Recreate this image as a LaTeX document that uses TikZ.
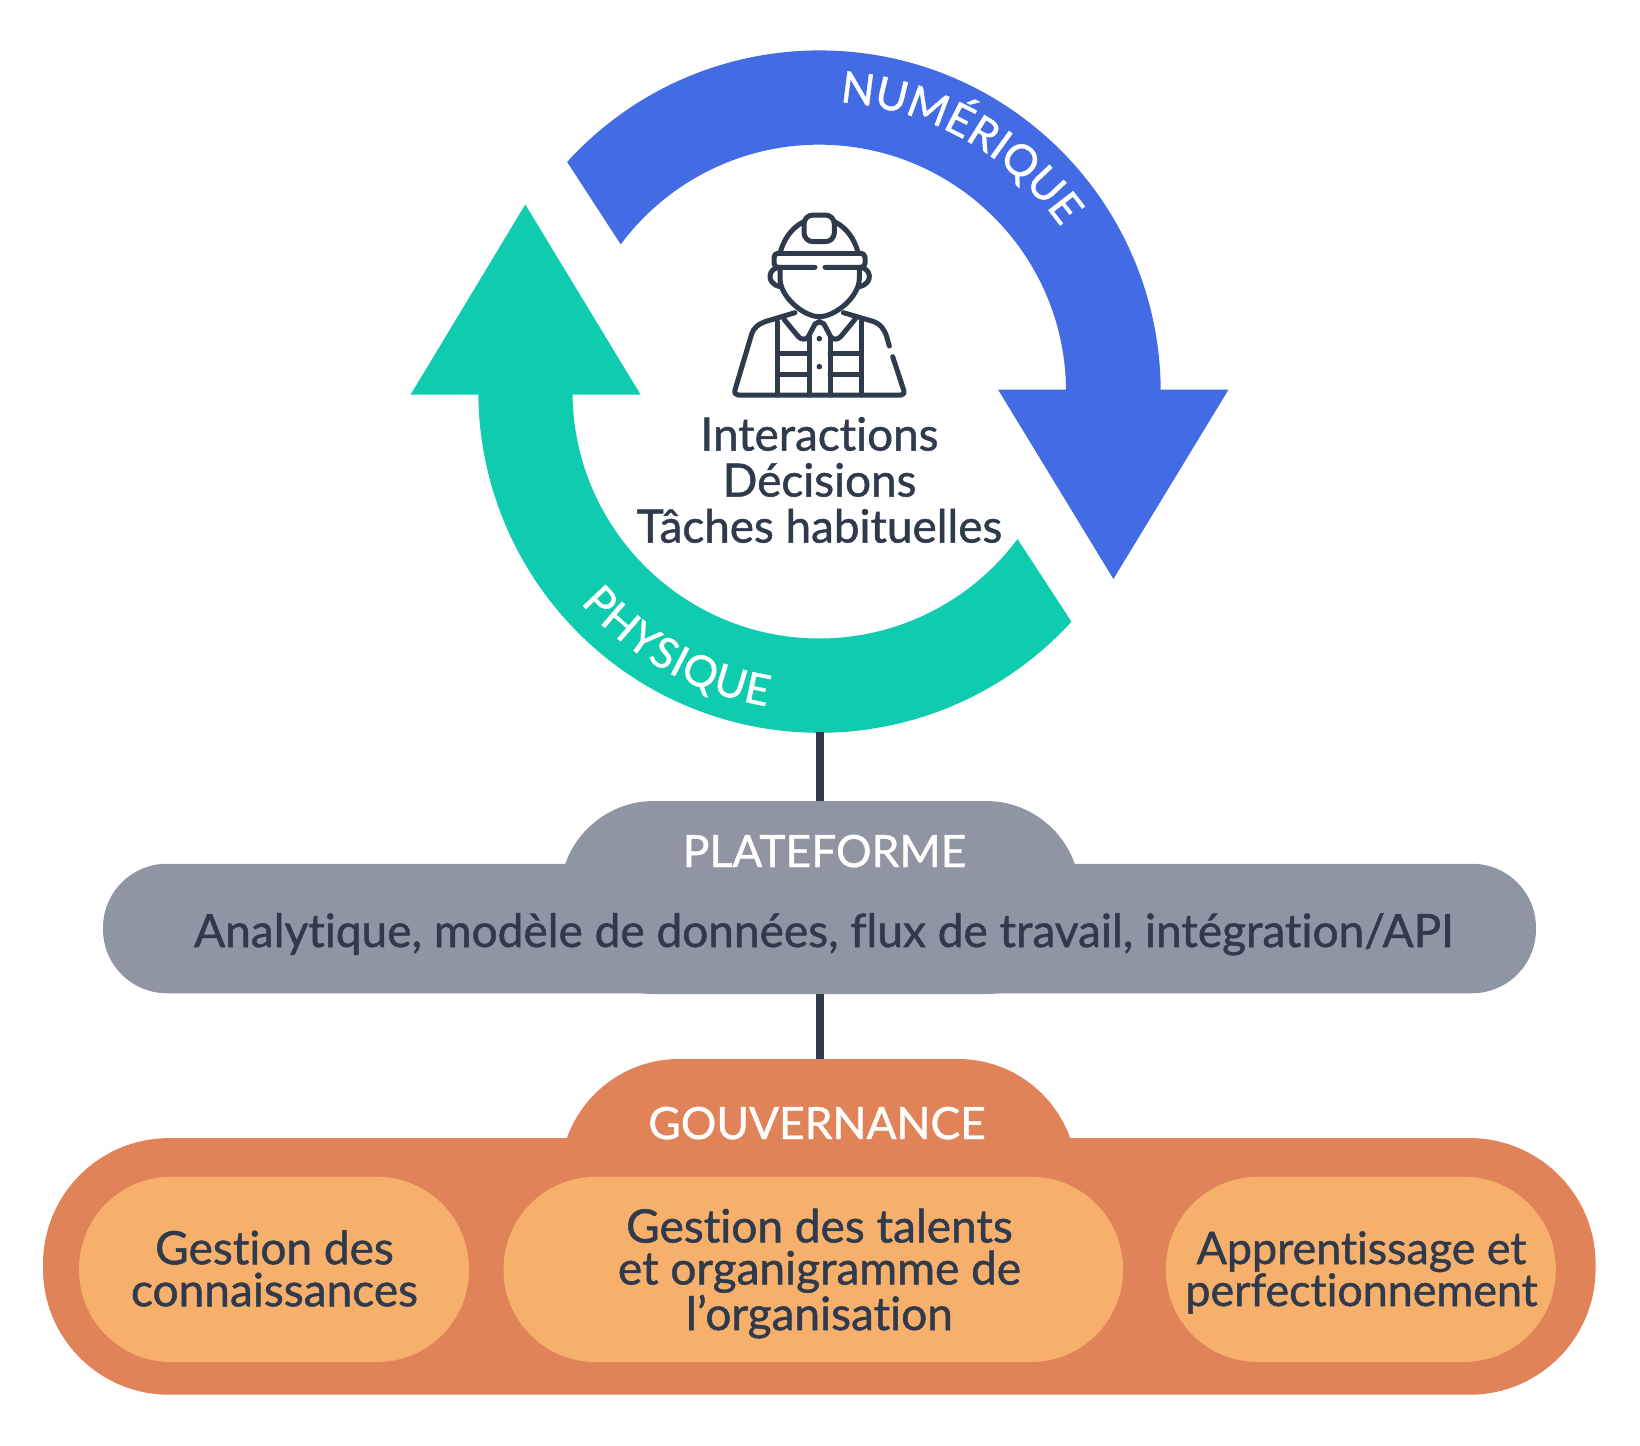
\documentclass[tikz,border=0pt]{standalone}
\usepackage{fontspec}
\setmainfont{Lato}
\newfontfamily\medf[FakeBold=1.1,Ligatures=NoCommon]{Lato}
\newfontfamily\lblf[FakeBold=0.9,Ligatures=NoCommon]{Lato}
\usetikzlibrary{decorations.text}
\definecolor{blueC}{HTML}{436CE4}
\definecolor{greenC}{HTML}{0FCCAE}
\definecolor{greyC}{HTML}{8F95A3}
\definecolor{orangeC}{HTML}{E08358}
\definecolor{lightC}{HTML}{F6B06B}
\definecolor{darkC}{HTML}{2F3A4D}
\tikzset{
  bar/.style={fill=#1,draw=none,inner sep=0pt,outer sep=0pt},
  pillbox/.style={bar=lightC,rounded corners=46pt,minimum height=92.6pt},
  pilltext/.style={text=darkC,align=center,inner sep=0pt,font=\medf\fontsize{23}{21}\selectfont},
  bandtext/.style={text=white,inner sep=0pt,anchor=base,font=\lblf\fontsize{22.2}{24}\selectfont},
  link/.style={draw=darkC,line width=4pt},
  icon/.style={draw=darkC,line width=2.5pt,line cap=round,line join=round},
  curvetext/.style={decorate,decoration={text along path,text align={fit to path},text={#1}}}
}
\begin{document}
\begin{tikzpicture}[x=.5pt,y=-.5pt]
\path[use as bounding box,fill=white] (0,0) rectangle (1640,1446);
\coordinate (c) at (819.5,391.6);
\coordinate (ringbottom) at (820,732);
% ring arrows
\fill[blueC] (c) ++(137.7:170.6pt) arc[start angle=137.7,end angle=0.35,radius=170.6pt]
  -- (1228.6,389.5) -- (1113.4,579) -- (998,389.5) -- (1066,389.5)
  arc[start angle=0.5,end angle=143.4,radius=123.5pt] -- cycle;
\fill[greenC] (c) ++(-42.4:170.6pt) arc[start angle=-42.4,end angle=-179.5,radius=170.6pt]
  -- (410.7,394.5) -- (525.3,204.5) -- (640.5,394.5) -- (572.5,394.5)
  arc[start angle=-179.3,end angle=-36.7,radius=123.5pt] -- cycle;
% ring labels
\path[curvetext={|\lblf\fontsize{21.8}{24}\selectfont\color{white}|NUMÉRIQUE}]
  (c) ++(86:145pt) arc[start angle=86,end angle=35.5,radius=148pt];
\path[curvetext={|\lblf\fontsize{21.5}{24}\selectfont\color{white}|PHYSIQUE}]
  (c) ++(221.5:159.5pt) arc[start angle=221.5,end angle=260.5,radius=159.5pt];
% centre text
\node[text=darkC,align=center,inner sep=0pt,font=\medf\fontsize{22.9}{23}\selectfont] (centre) at (819.5,480) {Interactions\\Décisions\\Tâches habituelles};
% platform
\node[bar=greyC,minimum width=260pt,minimum height=96.5pt,rounded corners=47pt] (platlobe) at (820,897.5) {};
\node[bar=greyC,minimum width=716.5pt,minimum height=64.75pt,rounded corners=32pt] (platbar) at (819.5,928.5) {};
\node[bandtext] (plat) at (824.5,867) {PLATEFORME};
\node[text=darkC,inner sep=0pt,anchor=base,font=\medf\fontsize{23}{25}\selectfont] (plattext) at (824,947) {Analytique, modèle de données, flux de travail, intégration/API};
% governance
\node[bar=orangeC,minimum width=258.5pt,minimum height=120pt,rounded corners=59.5pt] (govlobe) at (818.5,1179) {};
\node[bar=orangeC,minimum width=776.3pt,minimum height=128.3pt,rounded corners=63pt] (govbar) at (819.3,1266.4) {};
\node[bandtext] (gov) at (817,1139) {GOUVERNANCE};
\node[pillbox,minimum width=195pt] (p1) at (274,1269.4) {};
\node[pillbox,minimum width=309.7pt] (p2) at (813.3,1269.4) {};
\node[pillbox,minimum width=195pt] (p3) at (1360.8,1269.4) {};
\node[pilltext] (t1) at (274.5,1268.5) {Gestion des\\connaissances};
\node[pilltext] (t2) at (819.5,1273.5) {Gestion des talents\\et organigramme de\\l’organisation};
\node[pilltext,font=\medf\fontsize{22.4}{21}\selectfont] (t3) at (1361.5,1272.5) {Apprentissage et\\perfectionnement};
% connectors
\draw[link] (ringbottom) -- (ringbottom |- platlobe.north);
\draw[link] (ringbottom |- platlobe.south) -- (ringbottom |- govlobe.north);
% worker icon
\begin{scope}[shift={(700,190)},x=.16667pt,y=-.16667pt]
\draw[icon] (240,190) .. controls (250,150) and (275,112) .. (312,95);
\draw[icon] (475,190) .. controls (465,150) and (440,112) .. (403,95);
\draw[icon,rounded corners=4.5pt] (312,75) rectangle (403,155);
\draw[icon] (232,190) -- (485,190);
\draw[icon,rounded corners=2pt] (345,232) -- (222,232) -- (222,190) -- (240,190);
\draw[icon,rounded corners=2pt] (375,232) -- (495,232) -- (495,190) -- (475,190);
\draw[icon] (240,232) .. controls (205,232) and (195,280) .. (240,290);
\draw[icon] (478,232) .. controls (513,232) and (523,280) .. (478,290);
\draw[icon] (240,232) -- (240,265) .. controls (240,320) and (310,380) .. (358,380) .. controls (406,380) and (478,320) .. (478,265) -- (478,232);
\draw[icon] (285,368) -- (195,395) .. controls (175,402) and (160,415) .. (155,432) -- (105,600) .. controls (102,610) and (108,615) .. (115,615) -- (603,615) .. controls (610,615) and (614,610) .. (611,600) -- (578,500);
\draw[icon] (568,468) -- (560,440) .. controls (552,415) and (540,402) .. (522,395) -- (430,368);
\draw[icon] (233,395) -- (233,615);
\draw[icon] (483,395) -- (483,615);
\draw[icon] (327,440) -- (327,615);
\draw[icon] (390,440) -- (390,615);
\draw[icon] (252,388) -- (295,440) .. controls (305,450) and (318,450) .. (325,440) -- (345,402) -- (358,395);
\draw[icon] (465,388) -- (422,440) .. controls (412,450) and (399,450) .. (392,440) -- (372,402) -- (358,395);
\draw[icon] (233,490) -- (327,490);
\draw[icon] (390,490) -- (483,490);
\draw[icon] (233,552) -- (327,552);
\draw[icon] (390,552) -- (483,552);
\fill[darkC] (358,446) circle[radius=1.4pt];
\fill[darkC] (358,530) circle[radius=1.4pt];
\end{scope}
\end{tikzpicture}
\end{document}
